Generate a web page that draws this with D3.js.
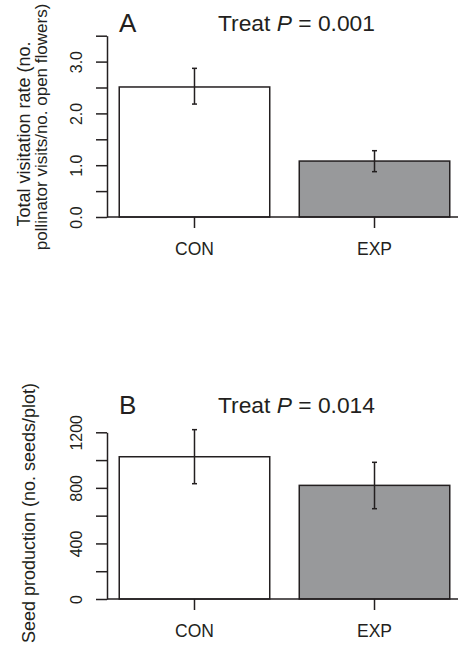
<!DOCTYPE html>
<html>
<head>
<meta charset="utf-8">
<script src="https://cdn.jsdelivr.net/npm/d3@7"></script>
<style>
  body { margin: 0; background: #fff; }
  svg { display: block; font-family: "Liberation Sans", Arial, sans-serif; }
  .axis path, .axis line { stroke: #231f20; stroke-width: 1.5px; }
  .axis text { fill: #231f20; font-size: 16px; }
</style>
</head>
<body>
<svg width="458" height="647"></svg>
<script>
var categories = ["CON", "EXP"];

// panel A: total visitation rate
var visitMean = [2.51, 1.08],
    visitLow = [2.18, 0.875],
    visitHigh = [2.87, 1.28],
    visitTicks = [0, 0.5, 1, 1.5, 2, 2.5, 3, 3.5],
    visitLabels = [0, 1, 2, 3];

// panel B: seed production
var seedMean = [1024, 818],
    seedLow = [830, 650],
    seedHigh = [1219, 984],
    seedTicks = [0, 200, 400, 600, 800, 1000, 1200],
    seedLabels = [0, 400, 800, 1200];

var fills = ["#ffffff", "#98999b"];
var ink = "#231f20";

var svg = d3.select("svg");

function drawPanel(p) {
    var g = svg.append("g");

    var x = d3.scaleBand()
        .domain(categories)
        .range([107, 462])
        .paddingInner(0.164)
        .paddingOuter(0.068);

    var y = d3.scaleLinear()
        .domain(p.domain)
        .range([p.bottom, p.top]);

    var data = categories.map(function(c, i) {
        return { cat: c, mean: p.mean[i], lo: p.low[i], hi: p.high[i], fill: fills[i] };
    });

    // bars
    g.selectAll(".bar")
        .data(data)
        .enter().append("rect")
        .attr("class", "bar")
        .attr("x", function(d) { return x(d.cat); })
        .attr("y", function(d) { return y(d.mean); })
        .attr("width", x.bandwidth())
        .attr("height", function(d) { return y(0) - y(d.mean); })
        .style("fill", function(d) { return d.fill; })
        .style("stroke", ink)
        .style("stroke-width", 1.5);

    // error bars
    var eb = g.selectAll(".err")
        .data(data)
        .enter().append("g")
        .attr("class", "err")
        .attr("transform", function(d) { return "translate(" + (x(d.cat) + x.bandwidth() / 2) + ",0)"; })
        .style("stroke", ink)
        .style("stroke-width", 1.5);
    eb.append("line")
        .attr("y1", function(d) { return y(d.lo); })
        .attr("y2", function(d) { return y(d.hi); });
    eb.append("line")
        .attr("x1", -2.5).attr("x2", 2.5)
        .attr("y1", function(d) { return y(d.lo); })
        .attr("y2", function(d) { return y(d.lo); });
    eb.append("line")
        .attr("x1", -2.5).attr("x2", 2.5)
        .attr("y1", function(d) { return y(d.hi); })
        .attr("y2", function(d) { return y(d.hi); });

    // baseline
    g.append("line")
        .attr("x1", 107).attr("x2", 458)
        .attr("y1", y(0)).attr("y2", y(0))
        .style("stroke", ink)
        .style("stroke-width", 1.5);

    // x axis ticks + labels
    var xa = g.append("g")
        .attr("class", "axis")
        .attr("transform", "translate(0," + y(0) + ")")
        .call(d3.axisBottom(x).tickSize(11).tickSizeOuter(0).tickPadding(10));
    xa.select(".domain").remove();
    xa.selectAll("text")
        .attr("dy", null)
        .attr("y", 38)
        .style("font-size", "17.5px");

    // y axis
    var ya = g.append("g")
        .attr("class", "axis")
        .attr("transform", "translate(107,0)")
        .call(d3.axisLeft(y)
            .tickValues(p.ticks)
            .tickSize(11)
            .tickSizeOuter(0)
            .tickFormat(function(d) { return p.labels.indexOf(d) >= 0 ? p.fmt(d) : ""; }));
    ya.selectAll("text")
        .attr("x", null)
        .attr("dy", null)
        .attr("text-anchor", "middle")
        .attr("transform", "translate(-25,0) rotate(-90)");

    // y axis title (one entry per line)
    p.ylab.forEach(function(line, i) {
        g.append("text")
            .attr("transform", "translate(" + p.ylabX[i] + "," + p.ylabY[i] + ") rotate(-90)")
            .attr("text-anchor", "middle")
            .style("font-size", p.ylabSize[i] + "px")
            .style("fill", ink)
            .text(line);
    });

    // panel letter + p value
    g.append("text")
        .attr("x", 119).attr("y", p.titleY)
        .style("font-size", "26px")
        .style("fill", ink)
        .text(p.letter);
    var t = g.append("text")
        .attr("x", 218).attr("y", p.titleY - 1)
        .style("font-size", "22.8px")
        .style("fill", ink);
    t.append("tspan").text("Treat ");
    t.append("tspan").style("font-style", "italic").text("P");
    t.append("tspan").text(" = " + p.pval);
}

drawPanel({
    letter: "A", pval: "0.001", titleY: 32,
    domain: [0, 3.5], top: 35.7, bottom: 217,
    mean: visitMean, low: visitLow, high: visitHigh,
    ticks: visitTicks, labels: visitLabels, fmt: d3.format(".1f"),
    ylab: ["Total visitation rate (no.", "pollinator visits/no. open flowers)"],
    ylabX: [30, 47], ylabY: [134, 127], ylabSize: [18, 17]
});

drawPanel({
    letter: "B", pval: "0.014", titleY: 414,
    domain: [0, 1200], top: 432.3, bottom: 599,
    mean: seedMean, low: seedLow, high: seedHigh,
    ticks: seedTicks, labels: seedLabels, fmt: d3.format("d"),
    ylab: ["Seed production (no. seeds/plot)"],
    ylabX: [35], ylabY: [513], ylabSize: [18]
});
</script>
</body>
</html>
